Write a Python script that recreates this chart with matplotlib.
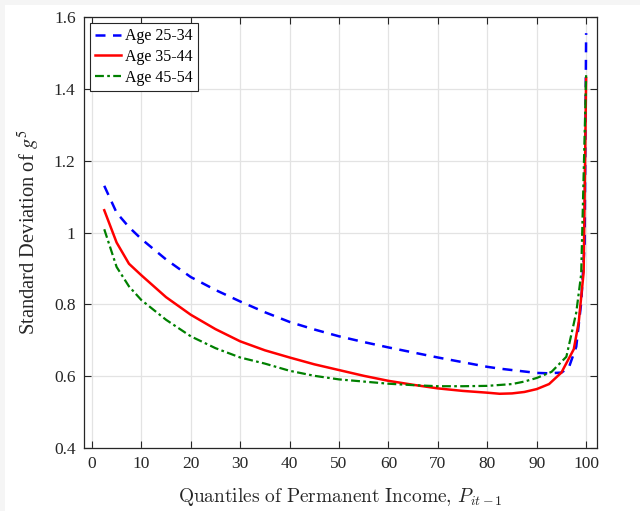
import numpy as np
import matplotlib
matplotlib.use("Agg")
import matplotlib.pyplot as plt
from matplotlib.patches import Rectangle

# Data
x_25 = [2.5, 5, 7.5, 10, 15, 20, 25, 30, 35, 40, 45, 50, 55, 60, 65, 70, 75, 80,
        82.5, 85, 87.5, 90, 92.5, 95, 96.5, 98, 99, 99.7, 100]
sd_25 = [1.130, 1.055, 1.015, 0.982, 0.925, 0.876, 0.840, 0.808, 0.778, 0.751, 0.730,
         0.711, 0.695, 0.680, 0.666, 0.652, 0.639, 0.626, 0.621, 0.617, 0.613, 0.609,
         0.608, 0.610, 0.624, 0.682, 0.804, 0.970, 1.555]

x_35 = [2.5, 5, 7.5, 10, 15, 20, 25, 30, 35, 40, 45, 50, 55, 60, 65, 70, 75, 80,
        82.5, 85, 87.5, 90, 92.5, 95, 97.5, 98.5, 99.5, 100]
sd_35 = [1.062, 0.972, 0.913, 0.881, 0.820, 0.771, 0.731, 0.697, 0.672, 0.652, 0.633,
         0.617, 0.601, 0.587, 0.576, 0.566, 0.559, 0.554, 0.551, 0.552, 0.556, 0.564,
         0.578, 0.610, 0.675, 0.750, 0.890, 1.430]

x_45 = [2.5, 5, 7.5, 10, 15, 20, 25, 30, 35, 40, 45, 50, 55, 60, 65, 70, 75, 80,
        85, 87.5, 90, 93, 96, 98, 99, 100]
sd_45 = [1.009, 0.904, 0.850, 0.812, 0.757, 0.711, 0.678, 0.652, 0.635, 0.615, 0.601,
         0.591, 0.585, 0.579, 0.575, 0.572, 0.572, 0.573, 0.578, 0.585, 0.595, 0.612,
         0.654, 0.777, 0.884, 1.440]

labels = ["Age 25-34", "Age 35-44", "Age 45-54"]
xticks = np.arange(0, 101, 10)
yticks = [0.4, 0.6, 0.8, 1.0, 1.2, 1.4, 1.6]
ytick_labels = ["0.4", "0.6", "0.8", "1", "1.2", "1.4", "1.6"]

plt.rcParams['font.family'] = ['Liberation Serif', 'DejaVu Serif']
plt.rcParams['mathtext.fontset'] = 'stix'

fig = plt.figure(figsize=(6.4, 5.11), dpi=100, facecolor='#f5f5f5')
fig.patches.append(Rectangle((5/640, 0), 1, 1 - 5/511, transform=fig.transFigure,
                             facecolor='white', edgecolor='none', zorder=-1))
ax = fig.add_axes([84/640, 63/511, 513/640, 431/511])

ax.plot(x_25, sd_25, color='blue', lw=1.8, ls=(0, (4, 3)), label=labels[0])
ax.plot(x_35, sd_35, color='red', lw=1.8, ls='-', label=labels[1])
ax.plot(x_45, sd_45, color='green', lw=1.6, ls=(0, (4, 1.5, 1.2, 1.5)), label=labels[2])

ax.set_xlim(-1.6, 102.2)
ax.set_ylim(0.4, 1.6)
ax.set_xticks(xticks)
ax.set_yticks(yticks)
ax.set_yticklabels(ytick_labels)
ax.tick_params(direction='in', top=True, right=True, labelsize=12.5, length=5,
               color='#262626', labelcolor='#262626', pad=6)
ax.grid(True, color='#e3e3e3', lw=0.9)
ax.set_axisbelow(True)
for s in ax.spines.values():
    s.set_color('#262626')
    s.set_linewidth(0.9)

# x label is set in Computer Modern like the LaTeX original
ax.set_xlabel(r'$\mathrm{Quantiles\ of\ Permanent\ Income,}\,P_{it-1}$', fontsize=14,
              color='#262626', labelpad=10, math_fontfamily='cm')
ax.set_ylabel('Standard Deviation of $g^5$', fontsize=14.8, color='#262626', labelpad=9)

leg = ax.legend(loc='upper left', fontsize=11.5, handlelength=1.6, handletextpad=0.25,
                borderpad=0.35, labelspacing=0.3, fancybox=False, framealpha=1,
                borderaxespad=0.35)
leg.get_frame().set_edgecolor('#262626')
leg.get_frame().set_linewidth(0.8)

fig.savefig('out.png', dpi=100, facecolor=fig.get_facecolor())
